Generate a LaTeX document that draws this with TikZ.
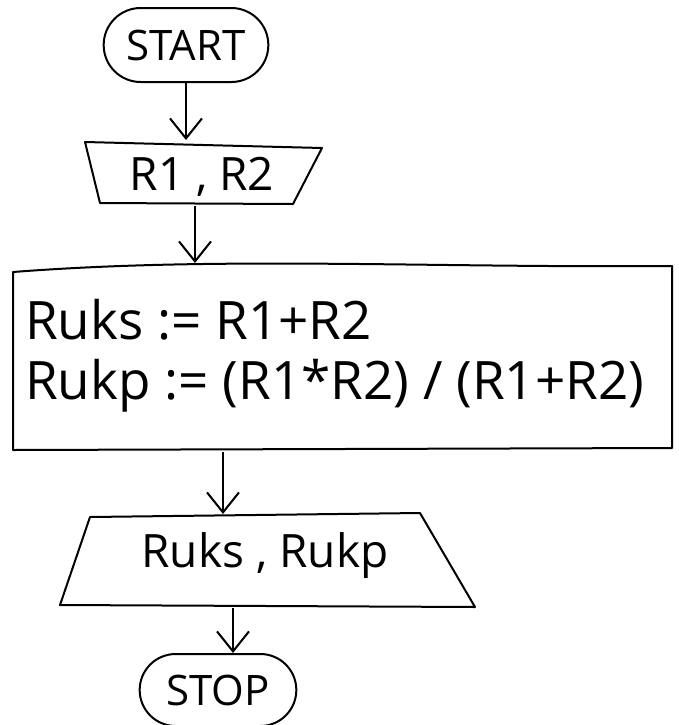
\documentclass[tikz,border=0pt]{standalone}
\usepackage{fontspec}
\setmainfont{Open Sans}
\usetikzlibrary{arrows.meta,shapes.misc}

\tikzset{
  term/.style={draw, rounded rectangle, line width=1pt, minimum width=89pt,
    minimum height=37pt, font=\fontsize{21}{25}\selectfont},
  flow/.style={-{Straight Barb[length=10pt,width=16pt]}, line width=1pt},
  box/.style={line width=1pt, line join=round},
  io/.style={font=\fontsize{23}{27}\selectfont},
  calc/.style={anchor=west, font=\fontsize{26.5}{30}\selectfont},
}

\begin{document}
\begin{tikzpicture}[x=0.5pt,y=-0.5pt]
\useasboundingbox (0,0) rectangle (679,725);

% start / stop
\node[term] (start) at (186,45) {START};
\node[term, minimum width=85pt, minimum height=36pt] (stop) at (218,690) {STOP};

% eingabe
\draw[box] (85,142) -- (322,148) -- (293,204) -- (100,203) -- cycle;
\coordinate (in-n) at (186,140);
\coordinate (in-s) at (195,206);
\node[io] (input) at (202,177) {R1 , R2};

% berechnung
\draw[box] (13,450) -- (13,272) .. controls (220,256) and (430,268) .. (672,266)
  -- (672,448) -- cycle;
\coordinate (proc-n) at (195,263);
\coordinate (proc-s) at (223,452);
\node[calc] (ruks) at (18,320) {Ruks := R1+R2};
\node[calc] (rukp) at (18,386) {Rukp := (R1*R2) / (R1+R2)};

% ausgabe
\draw[box] (90,517) -- (420,513) -- (475,607) -- (60,605) -- cycle;
\coordinate (out-n) at (223,514);
\coordinate (out-s) at (233,608);
\node[io] (output) at (265,556) {Ruks , Rukp};

% pfeile
\draw[flow] (start.south) -- (in-n);
\draw[flow] (in-s) -- (proc-n);
\draw[flow] (proc-s) -- (out-n);
\draw[flow] (out-s) -- (out-s |- stop.north);
\end{tikzpicture}
\end{document}
